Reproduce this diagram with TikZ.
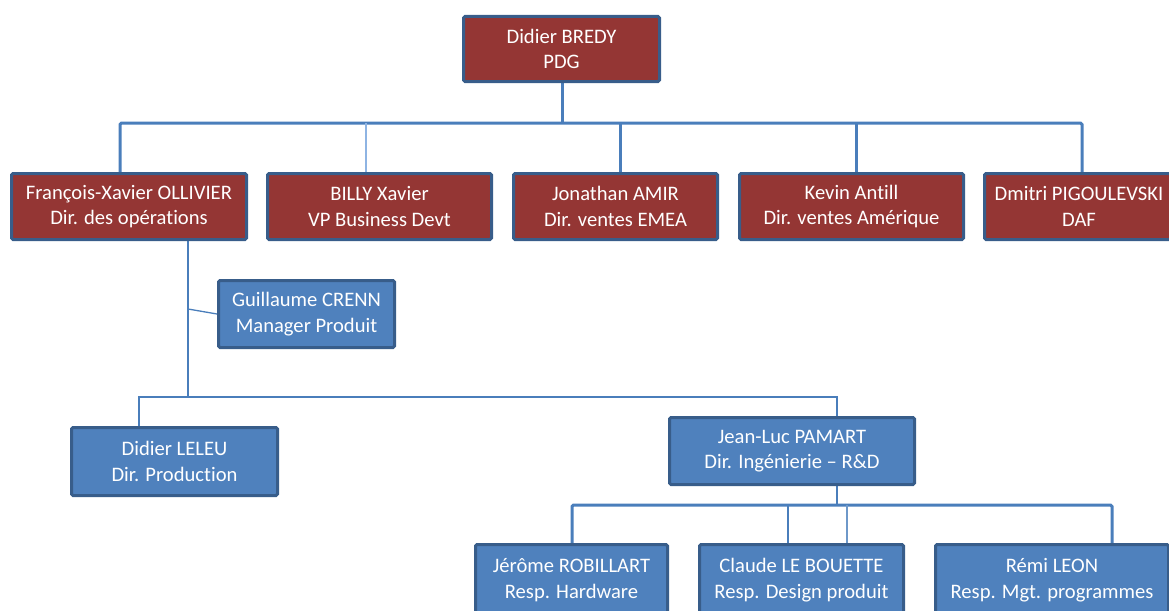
\documentclass[tikz,border=0pt]{standalone}
\usepackage{fontspec}
\setmainfont{Carlito}[Ligatures=NoCommon]
\usetikzlibrary{backgrounds}
\definecolor{boxred}{HTML}{943634}
\definecolor{boxblue}{HTML}{4F81BD}
\definecolor{edgeblue}{HTML}{385D8A}
\definecolor{wire}{HTML}{4A7EBB}
\definecolor{wirelight}{HTML}{8EB4E3}
\tikzset{
  person/.style={draw=edgeblue, line width=3pt, rounded corners=1.5pt,
    text=white, align=center, inner sep=2pt,
    font=\fontsize{20.6}{25.5}\selectfont},
  redbox/.style={person, fill=boxred},
  bluebox/.style={person, fill=boxblue},
  bus/.style={draw=wire, line width=3pt, rounded corners=1.5pt},
  twig/.style={draw=wire, line width=1.3pt},
  faint/.style={draw=wirelight, line width=1.4pt},
}
\begin{document}
\begin{tikzpicture}[x=1pt,y=-1pt]
\useasboundingbox (0,0) rectangle (1169,610);
\clip (0,0) rectangle (1169,610);

% ---------- people ----------
\node[redbox, minimum width=196, minimum height=65] (pdg) at (561.5,49) {Didier BREDY\\PDG};

\node[redbox, minimum width=235, minimum height=66] (fx) at (129,206.5) {François-Xavier OLLIVIER\\Dir. des opérations};
\node[redbox, minimum width=224, minimum height=66] (billy) at (379.5,206.5) {BILLY Xavier\\VP Business Devt};
\node[redbox, minimum width=204, minimum height=66] (jon) at (615.5,206.5) {Jonathan AMIR\\Dir. ventes EMEA};
\node[redbox, minimum width=224, minimum height=66] (kevin) at (851.5,206.5) {Kevin Antill\\Dir. ventes Amérique};
\node[redbox, minimum width=189, minimum height=66] (dmitri) at (1079,206.5) {Dmitri PIGOULEVSKI\\DAF};

\node[bluebox, minimum width=176, minimum height=67] (guill) at (306.5,314) {Guillaume CRENN\\Manager Produit};
\node[bluebox, minimum width=206, minimum height=68] (leleu) at (174.5,461.5) {Didier LELEU\\Dir. Production};
\node[bluebox, minimum width=245, minimum height=67] (jl) at (792,451) {Jean-Luc PAMART\\Dir. Ingénierie -- R\&D};

\node[bluebox, minimum width=192, minimum height=71] (jerome) at (571.5,580) {Jérôme ROBILLART\\Resp. Hardware};
\node[bluebox, minimum width=204, minimum height=71] (claude) at (801.5,580) {Claude LE BOUETTE\\Resp. Design produit};
\node[bluebox, minimum width=233, minimum height=71] (remi) at (1052,580) {Rémi LEON\\Resp. Mgt. programmes};

% ---------- junction points ----------
\coordinate (topbus) at (562,123);
\coordinate (d1) at (120,123);
\coordinate (d2) at (366,123);
\coordinate (d3) at (620,123);
\coordinate (d4) at (856,123);
\coordinate (d5) at (1082,123);
\coordinate (ops) at (188,241);
\coordinate (opsbus) at (188,397);
\coordinate (tap) at (188,309);
\coordinate (l1) at (139,397);
\coordinate (l2) at (837,397);
\coordinate (rd) at (837,486);
\coordinate (rdbus) at (837,505);
\coordinate (r1) at (572,505);
\coordinate (r2) at (788,505);
\coordinate (r3) at (847,505);
\coordinate (r4) at (1112,505);

% ---------- connectors, behind the boxes ----------
\begin{scope}[on background layer]
\draw[bus] (pdg.south -| topbus) -- (topbus);
\draw[bus] (fx.north -| d1) -- (d1) -- (d5) -- (dmitri.north -| d5);
\draw[bus] (d3) -- (jon.north -| d3);
\draw[bus] (d4) -- (kevin.north -| d4);
\draw[faint] (d2) -- (billy.north -| d2);

\draw[twig] (fx.south -| ops) -- (opsbus);
\draw[twig] (tap) -- (guill.west);
\draw[twig] (leleu.north -| l1) -- (l1) -- (l2) -- (jl.north -| l2);

\draw[twig] (jl.south -| rd) -- (rdbus);
\draw[bus] (jerome.north -| r1) -- (r1) -- (r4) -- (remi.north -| r4);
\draw[twig] (r2) -- (claude.north -| r2);
\draw[faint, draw=wire!80] (r3) -- (claude.north -| r3);
\end{scope}
\end{tikzpicture}
\end{document}
